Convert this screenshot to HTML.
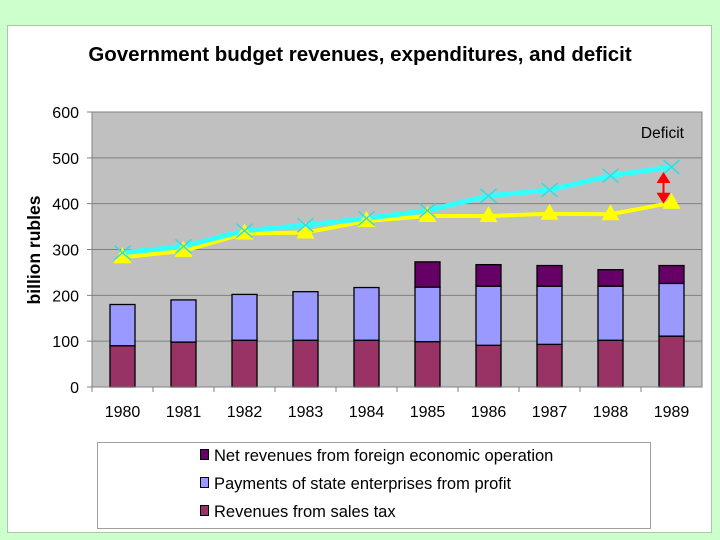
<!DOCTYPE html>
<html><head><meta charset="utf-8"><style>
body{margin:0;background:#ccffcc;}
svg{display:block;font-family:"Liberation Sans",Arial,sans-serif;}
</style></head><body>
<svg id="chart" width="720" height="540" xmlns="http://www.w3.org/2000/svg">
<rect x="0" y="0" width="720" height="540" fill="#ccffcc"/>
<rect x="7.5" y="25.5" width="704" height="507" fill="#fff" stroke="#a8c8a8"/>
<text x="360" y="61" text-anchor="middle" font-size="20.5" font-weight="bold">Government budget revenues, expenditures, and deficit</text>
<text transform="translate(40,250) rotate(-90)" text-anchor="middle" font-size="17.5" font-weight="bold">billion rubles</text>
<rect x="92" y="112" width="610" height="275" fill="#c0c0c0" stroke="#808080"/>
<g id="grid"></g><g id="bars"></g><g id="lines"></g><g id="axes"></g>
<text x="684" y="138" text-anchor="end" font-size="15.5">Deficit</text>
<g id="arrow"></g>
<rect x="97.5" y="442.5" width="553" height="86" fill="#fff" stroke="#a0a0a0"/>
<g><rect x="200.5" y="449.5" width="8" height="10" fill="#660066" stroke="#000"/><text x="214" y="461" font-size="16.5">Net revenues from foreign economic operation</text></g>
<g><rect x="200.5" y="477.5" width="8" height="10" fill="#9999ff" stroke="#000"/><text x="214" y="489" font-size="16.5">Payments of state enterprises from profit</text></g>
<g><rect x="200.5" y="505.5" width="8" height="10" fill="#993366" stroke="#000"/><text x="214" y="517" font-size="16.5">Revenues from sales tax</text></g>
</svg>
<script>
const years=["1980","1981","1982","1983","1984","1985","1986","1987","1988","1989"];
const salesTax=[90,98,102,102,102,99,91,93,102,111];
const profit=[90,92,100,106,115,119,129,127,118,115];
const foreign=[0,0,0,0,0,55,47,45,36,39];
const expenditures=[293,307,341,353,368,385,417,430,461,480];
const revenues=[283,297,335,337,362,373,373,378,377,402];
const yTicks=[0,100,200,300,400,500,600];
const NS="http://www.w3.org/2000/svg";
const X0=92,X1=702,Y0=387,Y1=112,YMAX=600;
const bw=(X1-X0)/years.length;
function xc(i){return X0+bw*(i+0.5);}
function y(v){return Y0-(v/YMAX)*(Y0-Y1);}
function mk(tag,attrs,parent){const e=document.createElementNS(NS,tag);for(const k in attrs)e.setAttribute(k,attrs[k]);parent.appendChild(e);return e;}
const grid=document.getElementById('grid'),bars=document.getElementById('bars'),lines=document.getElementById('lines'),axes=document.getElementById('axes');
yTicks.forEach(t=>{
  const l=mk('line',{x1:X0-5,x2:X1,y1:y(t),y2:y(t),stroke:'#808080','stroke-width':1},grid);
  
  
  const tx=mk('text',{x:X0-13,y:y(t)+6,'text-anchor':'end','font-size':16},axes);
  tx.textContent=t;
  
  
});
years.forEach((yr,i)=>{
  const tk=mk('line',{x1:X0+bw*i,x2:X0+bw*i,y1:Y0,y2:Y0+5,stroke:'#808080'},axes);
  
  
  const tx=mk('text',{x:xc(i),y:417,'text-anchor':'middle','font-size':16},axes);
  tx.textContent=yr;
  
  
  const w=25,x=xc(i)-w/2;
  let base=0;
  [[salesTax,'#993366','sales-tax'],[profit,'#9999ff','profit'],[foreign,'#660066','foreign']].forEach(([arr,c,n])=>{
    const v=arr[i];if(v<=0)return;
    const r=mk('rect',{x:x,y:y(base+v),width:w,height:y(base)-y(base+v),fill:c,stroke:'#000','stroke-width':1.3},bars);
    
    
    base+=v;
  });
});
const ax=mk('line',{x1:X0,x2:X1,y1:Y0,y2:Y0,stroke:'#808080'},axes);


function pts(a){return a.map((v,i)=>xc(i)+','+y(v)).join(' ');}
const rl=mk('polyline',{points:pts(revenues),fill:'none',stroke:'#ffff00','stroke-width':4},lines);


const el=mk('polyline',{points:pts(expenditures),fill:'none',stroke:'#33ffff','stroke-width':5},lines);


revenues.forEach((v,i)=>{
  const cx=xc(i),cy=y(v);
  const t=mk('polygon',{points:`${cx},${cy-10} ${cx-9},${cy+6} ${cx+9},${cy+6}`,fill:'#ffff00'},lines);
  
  
});
expenditures.forEach((v,i)=>{
  const cx=xc(i),cy=y(v);
  const g=mk('path',{d:`M${cx-8},${cy-7}L${cx+8},${cy+7}M${cx+8},${cy-7}L${cx-8},${cy+7}`,stroke:'#33dddd','stroke-width':1.5},lines);
  
  
});
const ar=document.getElementById('arrow');
const li=years.length-1,axx=xc(li)-8,ya=y(expenditures[li])+5,yb=y(revenues[li])+1;
mk('line',{x1:axx,x2:axx,y1:ya+8,y2:yb-8,stroke:'#ff0000','stroke-width':2},ar);
mk('polygon',{points:`${axx},${ya} ${axx-7},${ya+11} ${axx+7},${ya+11}`,fill:'#ff0000'},ar);
mk('polygon',{points:`${axx},${yb} ${axx-7},${yb-11} ${axx+7},${yb-11}`,fill:'#ff0000'},ar);
</script>
</body></html>
